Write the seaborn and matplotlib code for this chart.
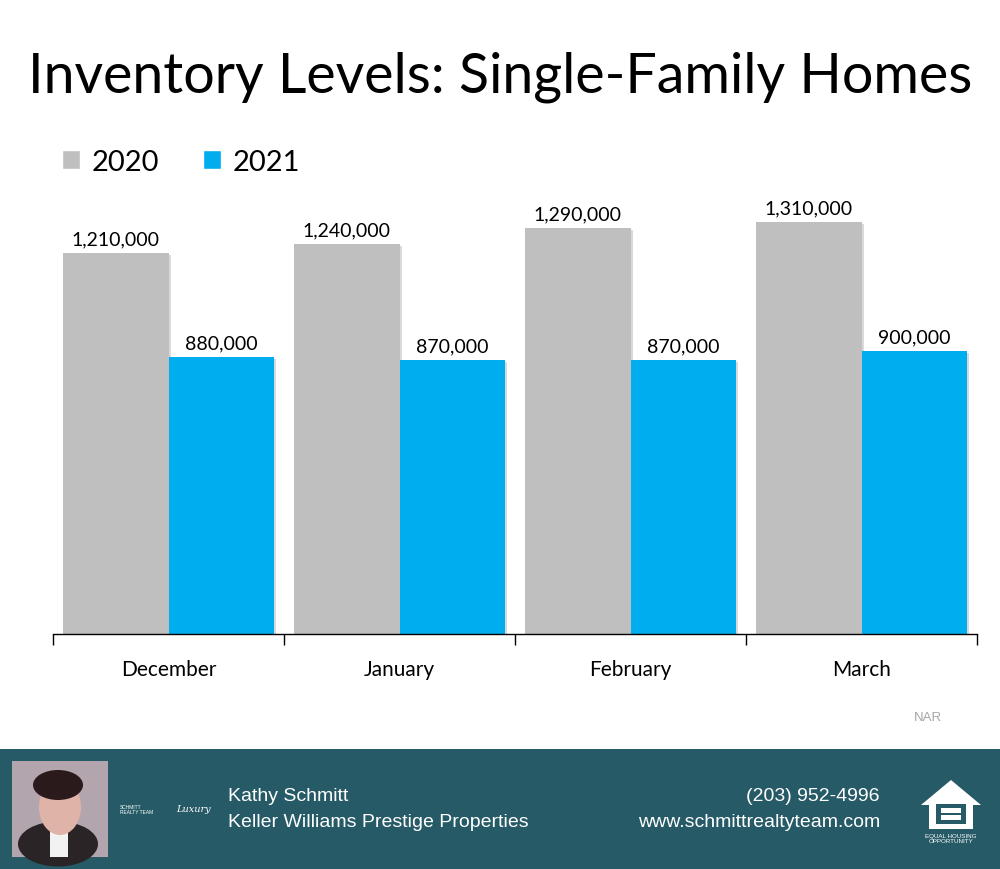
import numpy as np
import pandas as pd
import matplotlib
matplotlib.use("Agg")
import matplotlib.pyplot as plt
import matplotlib.patheffects as pe
from matplotlib.patches import Rectangle, Polygon, Ellipse
import seaborn as sns

months = ["December", "January", "February", "March"]
years = ["2020", "2021"]
inv_2020 = [1210000, 1240000, 1290000, 1310000]
inv_2021 = [880000, 870000, 870000, 900000]
colors = ["#BFBFBF", "#00AEEF"]

df = pd.DataFrame({
    "month": months * 2,
    "year": [years[0]] * 4 + [years[1]] * 4,
    "homes": inv_2020 + inv_2021,
})

sns.set_style("white")
plt.rcParams["font.family"] = ["Lato", "DejaVu Sans"]
plt.rcParams["text.color"] = "black"
plt.rcParams["xtick.color"] = "black"
plt.rcParams["xtick.labelcolor"] = "black"
plt.rcParams["xtick.bottom"] = True

fig = plt.figure(figsize=(10, 8.7), dpi=100)

# page overlay in pixel coords for the footer bits
bg = fig.add_axes([0, 0, 1, 1], zorder=0)
bg.set_xlim(0, 1000)
bg.set_ylim(870, 0)
bg.axis("off")
bg.patch.set_visible(False)

bg.add_patch(Rectangle((0, 750), 1000, 120, color="#255A66", lw=0))
# photo placeholder
bg.add_patch(Rectangle((12, 762), 96, 96, color="#B3A5AE", lw=0))
bg.add_patch(Ellipse((58, 845), 80, 45, color="#2A2426", lw=0))
bg.add_patch(Rectangle((50, 830), 18, 28, color="#F2F2F2", lw=0))
bg.add_patch(Ellipse((60, 808), 42, 56, color="#E0B3A8", lw=0))
bg.add_patch(Ellipse((58, 786), 50, 30, color="#2B1A1C", lw=0))
# equal housing logo
bg.add_patch(Polygon([(951, 781), (921, 806), (929, 806), (929, 830),
                      (973, 830), (973, 806), (981, 806)],
                     closed=True, fc="white", ec="none"))
bg.add_patch(Rectangle((936, 805), 30, 20, color="#255A66", lw=0))
bg.add_patch(Rectangle((941, 809), 20, 5, color="white", lw=0))
bg.add_patch(Rectangle((941, 816), 20, 5, color="white", lw=0))
bg.text(951, 834, "EQUAL HOUSING\nOPPORTUNITY", color="white", fontsize=4.5,
        ha="center", va="top", family="Liberation Sans", linespacing=0.9)
# small team logo
bg.text(120, 810, "SCHMITT\nREALTY TEAM", color="white", fontsize=3.5,
        ha="left", va="center", family="Liberation Sans")
bg.text(176, 810, "Luxury", color="white", fontsize=7, style="italic",
        ha="left", va="center", family="DejaVu Serif")

bg.text(228, 797, "Kathy Schmitt", color="white", fontsize=14,
        ha="left", va="center", family="Liberation Sans")
bg.text(228, 823, "Keller Williams Prestige Properties", color="white",
        fontsize=14, ha="left", va="center", family="Liberation Sans")
bg.text(880, 797, "(203) 952-4996", color="white", fontsize=14,
        ha="right", va="center", family="Liberation Sans")
bg.text(880, 823, "www.schmittrealtyteam.com", color="white", fontsize=14,
        ha="right", va="center", family="Liberation Sans")
bg.text(928, 718, "NAR", color="#A6A6A6", fontsize=9.5, ha="center",
        va="center", family="Liberation Sans")

bg.text(500, 77, "Inventory Levels: Single-Family Homes", fontsize=40,
        ha="center", va="center", color="black")

# main chart
ax = fig.add_axes([0.053, 1 - 635 / 870, 0.924, 435 / 870], zorder=2)
ax.patch.set_visible(False)
sns.barplot(data=df, x="month", y="homes", hue="year", palette=colors,
            width=0.91, saturation=1, ax=ax, legend=True)

shadow = [pe.SimplePatchShadow(offset=(2, -1.5), shadow_rgbFace="black", alpha=0.15),
          pe.Normal()]
for cont in ax.containers:
    for bar in cont:
        bar.set_path_effects(shadow)
        bar.set_linewidth(0)
    ax.bar_label(cont, labels=[f"{v:,.0f}" for v in cont.datavalues],
                 padding=4, fontsize=14, color="black")

ax.set_ylim(0, 1383000)
ax.set_xlim(-0.5, 3.5)
ax.set_yticks([])
ax.set_ylabel("")
ax.set_xlabel("")
ax.set_xticks(np.arange(-0.5, 4, 1))
ax.set_xticklabels([])
ax.set_xticks(np.arange(4), labels=months, minor=True)
ax.tick_params(axis="x", which="major", bottom=True, length=8, width=1,
               color="black", direction="out")
ax.tick_params(axis="x", which="minor", bottom=True, length=0, labelsize=15,
               pad=18, labelcolor="black")
for s in ["top", "right", "left"]:
    ax.spines[s].set_visible(False)
ax.spines["bottom"].set_color("black")
ax.spines["bottom"].set_linewidth(1)

leg = ax.legend(loc="center left", bbox_to_anchor=(62 / 1000, 1 - 163 / 870),
                bbox_transform=fig.transFigure, ncol=2, frameon=False,
                fontsize=21, handlelength=0.62, handleheight=0.62,
                handletextpad=0.4, columnspacing=1.5, borderaxespad=0,
                borderpad=0)
for h in leg.legend_handles:
    h.set_path_effects([])
for t in leg.get_texts():
    t.set_color("black")

fig.savefig("out.png", dpi=100)
